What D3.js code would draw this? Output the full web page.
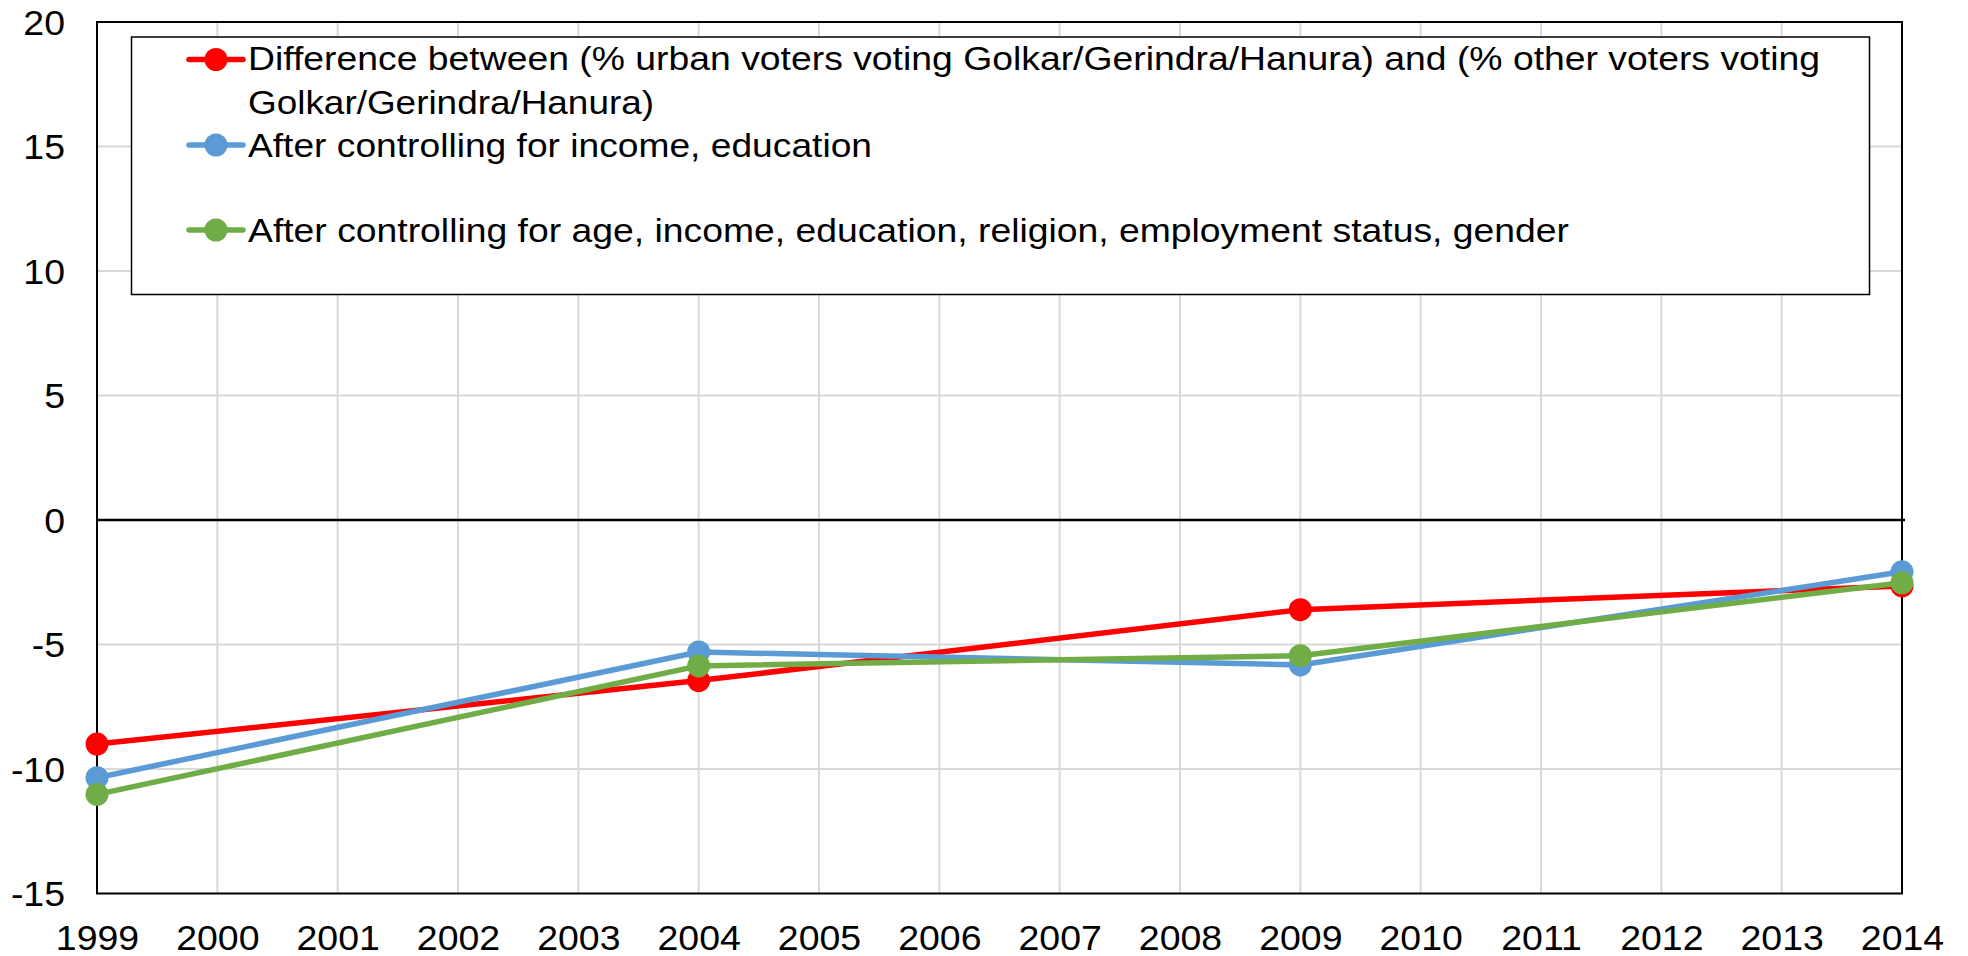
<!DOCTYPE html>
<html><head><meta charset="utf-8">
<script src="https://cdn.jsdelivr.net/npm/d3@7"></script>
<style>html,body{margin:0;padding:0;background:#fff;}svg{display:block;font-family:"Liberation Sans",Arial,sans-serif;}</style>
</head><body>
<svg id="c" width="1968" height="956"></svg>
<script>
const years = [1999,2000,2001,2002,2003,2004,2005,2006,2007,2008,2009,2010,2011,2012,2013,2014];
const yTicks = [-15,-10,-5,0,5,10,15,20];
const pointYears = [1999,2004,2009,2014];
const seriesNames = [
  "Difference between (% urban voters voting Golkar/Gerindra/Hanura) and (% other voters voting Golkar/Gerindra/Hanura)",
  "After controlling for income, education",
  "After controlling for age, income, education, religion, employment status, gender"
];
const redValues = [-9.0, -6.45, -3.6, -2.65];
const blueValues = [-10.35, -5.3, -5.82, -2.08];
const greenValues = [-11.02, -5.86, -5.45, -2.52];
const colors = ["#ff0000","#5b9bd5","#70ad47"];

const FS = 35, STRETCH = 1.07;
const svg = d3.select("#c");
const x = d3.scaleLinear().domain([1999,2014]).range([97,1902]);
const y = d3.scaleLinear().domain([-15,20]).range([893.5,22]);

function stretch(sel, f){
  sel.each(function(){
    const w = this.getComputedTextLength();
    d3.select(this).attr("textLength", w*f).attr("lengthAdjust","spacingAndGlyphs");
  });
}

// gridlines
svg.append("g").selectAll("line").data(years.slice(1)).join("line")
  .attr("x1",d=>x(d)).attr("x2",d=>x(d)).attr("y1",y(20)).attr("y2",y(-15))
  .attr("stroke","#d9d9d9").attr("stroke-width",2);
svg.append("g").selectAll("line").data(yTicks.filter(d=>d!==0 && d!==-15 && d!==20)).join("line")
  .attr("x1",x(1999)).attr("x2",x(2014)).attr("y1",d=>y(d)).attr("y2",d=>y(d))
  .attr("stroke","#d9d9d9").attr("stroke-width",2);

// plot box
svg.append("rect").attr("x",x(1999)).attr("y",y(20)).attr("width",x(2014)-x(1999)).attr("height",y(-15)-y(20))
  .attr("fill","none").attr("stroke","#000").attr("stroke-width",2);
// zero line
svg.append("line").attr("x1",x(1999)).attr("x2",x(2014)+3).attr("y1",y(0)).attr("y2",y(0))
  .attr("stroke","#000").attr("stroke-width",2.5);

// axes labels via d3 axes
const yAxis = svg.append("g").attr("transform",`translate(${x(1999)-32},0)`)
  .call(d3.axisLeft(y).tickValues(yTicks).tickFormat(d=>String(d)).tickSize(0).tickPadding(0));
yAxis.select(".domain").remove();
yAxis.selectAll("text").attr("font-size",FS).attr("font-family","Liberation Sans, Arial, sans-serif").attr("fill","#000").attr("dy","0.35em");
stretch(yAxis.selectAll("text"), STRETCH);

const xAxis = svg.append("g").attr("transform",`translate(0,${y(-15)})`)
  .call(d3.axisBottom(x).tickValues(years).tickFormat(d=>String(d)).tickSize(0).tickPadding(0));
xAxis.select(".domain").remove();
xAxis.selectAll("text").attr("font-size",FS).attr("font-family","Liberation Sans, Arial, sans-serif").attr("fill","#000").attr("dy",null).attr("y",56.5);
stretch(xAxis.selectAll("text"), STRETCH);

// series
const allSeries = [redValues, blueValues, greenValues];
const line = d3.line().x((d,i)=>x(pointYears[i])).y(d=>y(d));
allSeries.forEach((vals,k)=>{
  const g = svg.append("g");
  g.append("path").datum(vals).attr("d",line).attr("fill","none").attr("stroke",colors[k]).attr("stroke-width",5.5).attr("stroke-linejoin","round");
  g.selectAll("circle").data(vals).join("circle").attr("cx",(d,i)=>x(pointYears[i])).attr("cy",d=>y(d)).attr("r",11.5).attr("fill",colors[k]);
});

// legend
const lg = svg.append("g");
lg.append("rect").attr("x",131.5).attr("y",37).attr("width",1738).attr("height",257.5).attr("fill","#fff").attr("stroke","#000").attr("stroke-width",1.5);
const legendItems = [
  {lines:["Difference between (% urban voters voting Golkar/Gerindra/Hanura) and (% other voters voting","Golkar/Gerindra/Hanura)"], widths:[1572,406], my:59.5, base:[70,113.5]},
  {lines:["After controlling for income, education"], widths:[624], my:145, base:[156.5]},
  {lines:["After controlling for age, income, education, religion, employment status, gender"], widths:[1321], my:230, base:[242]}
];
legendItems.forEach((it,k)=>{
  lg.append("line").attr("x1",189).attr("x2",243).attr("y1",it.my).attr("y2",it.my).attr("stroke",colors[k]).attr("stroke-width",5.5).attr("stroke-linecap","round");
  lg.append("circle").attr("cx",216).attr("cy",it.my).attr("r",11.5).attr("fill",colors[k]);
  it.lines.forEach((t,j)=>{
    lg.append("text").attr("x",248).attr("y",it.base[j]).attr("font-size",33).attr("fill","#000").text(t)
      .attr("textLength",it.widths[j]).attr("lengthAdjust","spacingAndGlyphs");
  });
});
</script>
</body></html>
